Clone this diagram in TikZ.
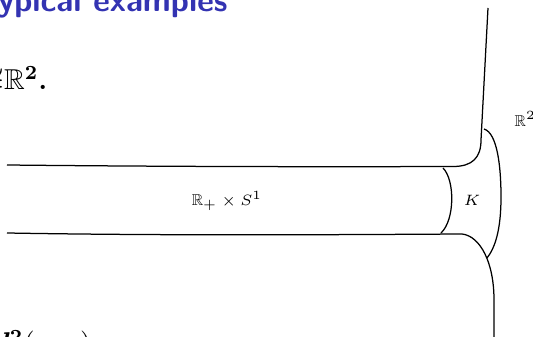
\documentclass[tikz,border=0pt]{standalone}
\usepackage{amsmath,amssymb}
\usepackage{tikz}
\definecolor{slideblue}{rgb}{0.2,0.2,0.7}

\begin{document}
\begin{tikzpicture}[x=0.4pt, y=-0.4pt, line width=0.5pt]
  \useasboundingbox (0,0) rectangle (533,337);
  \clip (0,0) rectangle (533,337);
  % slide text, cut by the frame
  \node[anchor=base east, inner sep=0pt, text=slideblue, font=\sffamily\bfseries\fontsize{12.9}{15}\selectfont] (title) at (228,12) {Typical examples};
  \node[anchor=base east, inner sep=0pt, font=\bfseries\boldmath\fontsize{11.5}{14}\selectfont] (plane) at (48,90) {${\cong}\mathbb{R}^2$.};
  \node[anchor=base west, inner sep=0pt, font=\fontsize{11.5}{14}\selectfont] (dist) at (-9,354) {$\boldsymbol{d^2}(x,y)$};
  % cylinder end glued to the plane
  \draw (7,165) .. controls (150,166.5) and (300,167) .. (453,166.5)
        .. controls (472,166.5) and (481,158) .. (481,140) -- (488,8);
  \draw (7,233) .. controls (150,235.5) and (300,235) .. (462,234)
        .. controls (480,236) and (494,262) .. (494,300) -- (494,337);
  \draw (443,168) .. controls (455,180) and (455,220) .. (441,233);
  \draw (484,129) .. controls (497,133) and (501,165) .. (501,197)
        .. controls (501,230) and (495,248) .. (487,258);
  \node[font=\fontsize{6.3}{7.5}\selectfont] (cyl) at (227,201) {$\mathbb{R}_+\times S^1$};
  \node[font=\fontsize{6.3}{7.5}\selectfont] (K) at (472,200) {$K$};
  \node[font=\fontsize{6.3}{7.5}\selectfont, anchor=west, inner sep=0pt] (R2) at (514,119) {$\mathbb{R}^2$};
\end{tikzpicture}
\end{document}
